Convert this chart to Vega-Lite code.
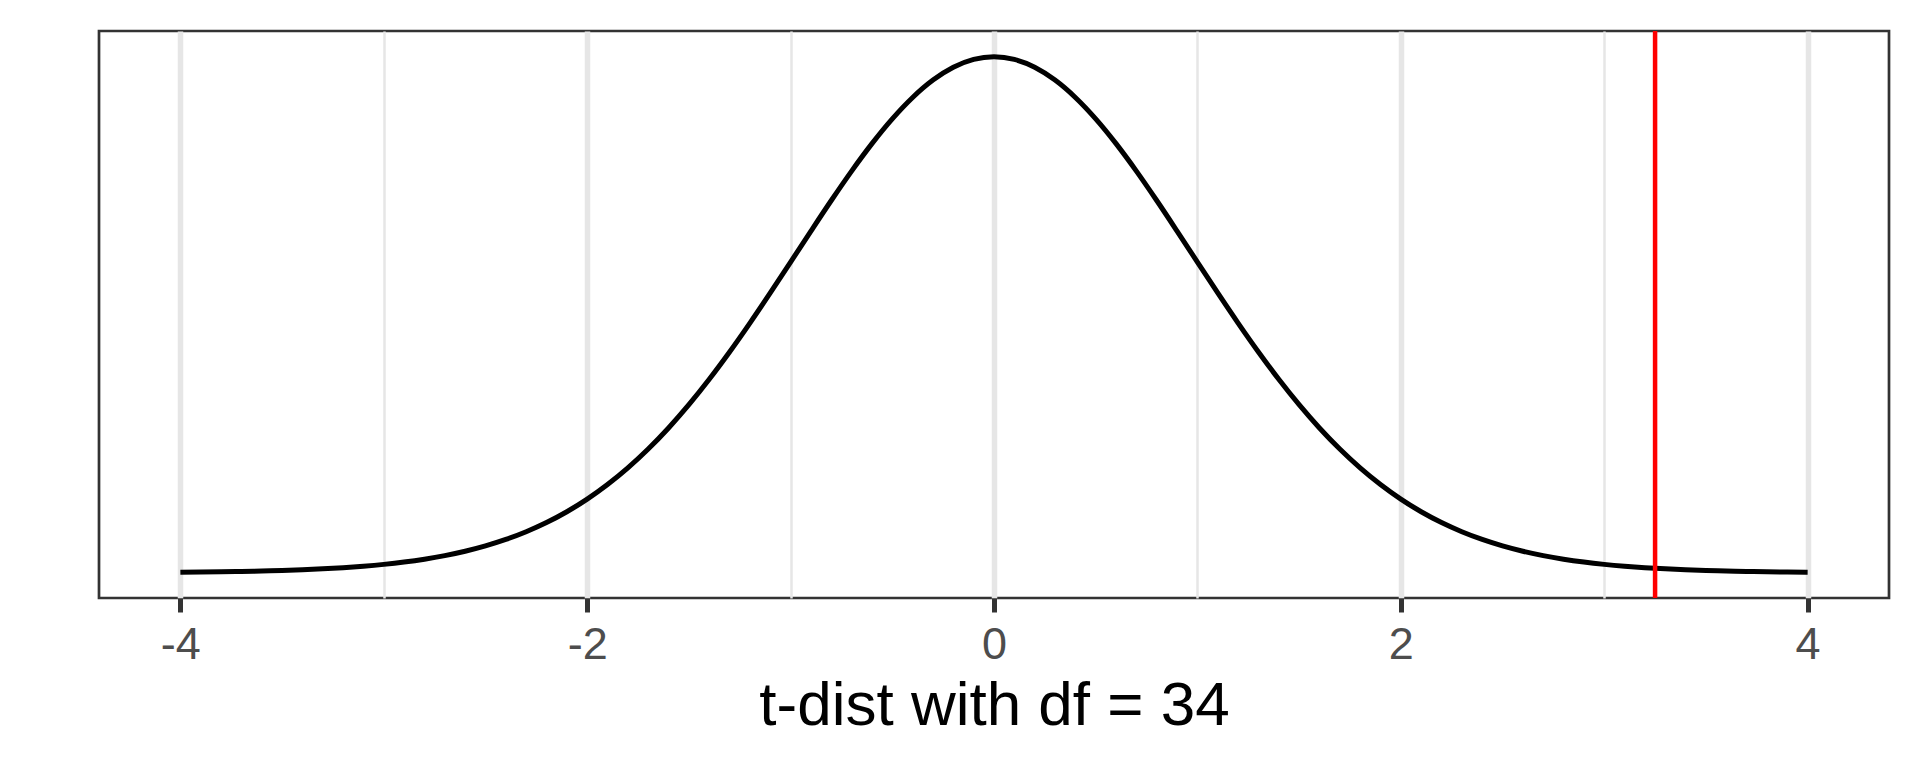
{
  "$schema": "https://vega.github.io/schema/vega-lite/v6.json",
  "autosize": "none",
  "padding": {"left": 99, "top": 31, "right": 31, "bottom": 170},
  "width": 1790,
  "height": 567,
  "background": "white",
  "config": {
    "view": {"stroke": "#333333", "strokeWidth": 2.7},
    "font": "Liberation Sans"
  },
  "datasets": {
    "density": [
      {"t": -4.0, "d": 0.000464}, {"t": -3.9, "d": 0.000613}, {"t": -3.8, "d": 0.000808}, {"t": -3.7, "d": 0.001062},
      {"t": -3.6, "d": 0.001391}, {"t": -3.5, "d": 0.001816}, {"t": -3.4, "d": 0.002363}, {"t": -3.3, "d": 0.003062},
      {"t": -3.2, "d": 0.003952}, {"t": -3.1, "d": 0.005079}, {"t": -3.0, "d": 0.006500}, {"t": -2.9, "d": 0.008277},
      {"t": -2.8, "d": 0.010489}, {"t": -2.7, "d": 0.013222}, {"t": -2.6, "d": 0.016577}, {"t": -2.5, "d": 0.020663},
      {"t": -2.4, "d": 0.025603}, {"t": -2.3, "d": 0.031526}, {"t": -2.2, "d": 0.038566}, {"t": -2.1, "d": 0.046862},
      {"t": -2.0, "d": 0.056547}, {"t": -1.9, "d": 0.067729}, {"t": -1.8, "d": 0.080520}, {"t": -1.7, "d": 0.094996},
      {"t": -1.6, "d": 0.111172}, {"t": -1.5, "d": 0.129034}, {"t": -1.4, "d": 0.148505}, {"t": -1.3, "d": 0.169446},
      {"t": -1.2, "d": 0.191630}, {"t": -1.1, "d": 0.214755}, {"t": -1.0, "d": 0.238455}, {"t": -0.9, "d": 0.262287},
      {"t": -0.8, "d": 0.285749}, {"t": -0.7, "d": 0.308295}, {"t": -0.6, "d": 0.329355}, {"t": -0.5, "d": 0.348369},
      {"t": -0.4, "d": 0.364784}, {"t": -0.3, "d": 0.378116}, {"t": -0.2, "d": 0.387955}, {"t": -0.1, "d": 0.393987},
      {"t": 0.0, "d": 0.396020},
      {"t": 0.1, "d": 0.393987}, {"t": 0.2, "d": 0.387955}, {"t": 0.3, "d": 0.378116}, {"t": 0.4, "d": 0.364784},
      {"t": 0.5, "d": 0.348369}, {"t": 0.6, "d": 0.329355}, {"t": 0.7, "d": 0.308295}, {"t": 0.8, "d": 0.285749},
      {"t": 0.9, "d": 0.262287}, {"t": 1.0, "d": 0.238455}, {"t": 1.1, "d": 0.214755}, {"t": 1.2, "d": 0.191630},
      {"t": 1.3, "d": 0.169446}, {"t": 1.4, "d": 0.148505}, {"t": 1.5, "d": 0.129034}, {"t": 1.6, "d": 0.111172},
      {"t": 1.7, "d": 0.094996}, {"t": 1.8, "d": 0.080520}, {"t": 1.9, "d": 0.067729}, {"t": 2.0, "d": 0.056547},
      {"t": 2.1, "d": 0.046862}, {"t": 2.2, "d": 0.038566}, {"t": 2.3, "d": 0.031526}, {"t": 2.4, "d": 0.025603},
      {"t": 2.5, "d": 0.020663}, {"t": 2.6, "d": 0.016577}, {"t": 2.7, "d": 0.013222}, {"t": 2.8, "d": 0.010489},
      {"t": 2.9, "d": 0.008277}, {"t": 3.0, "d": 0.006500}, {"t": 3.1, "d": 0.005079}, {"t": 3.2, "d": 0.003952},
      {"t": 3.3, "d": 0.003062}, {"t": 3.4, "d": 0.002363}, {"t": 3.5, "d": 0.001816}, {"t": 3.6, "d": 0.001391},
      {"t": 3.7, "d": 0.001062}, {"t": 3.8, "d": 0.000808}, {"t": 3.9, "d": 0.000613}, {"t": 4.0, "d": 0.000464}
    ],
    "observed": [{"t": 3.25}]
  },
  "resolve": {"axis": {"x": "independent"}},
  "layer": [
    {
      "data": {"name": "density"},
      "mark": {"type": "line", "color": "black", "strokeWidth": 5, "interpolate": "monotone", "clip": true},
      "encoding": {
        "x": {
          "field": "t", "type": "quantitative",
          "scale": {"domain": [-4.4, 4.4], "nice": false, "zero": false},
          "axis": {
            "values": [-4, -2, 0, 2, 4],
            "labelExpr": "'' + datum.value",
            "title": "t-dist with df = 34",
            "grid": true, "gridColor": "#E6E6E6", "gridWidth": 5.5,
            "domain": false,
            "ticks": true, "tickSize": 14, "tickWidth": 5, "tickColor": "#333333",
            "labelFontSize": 45, "labelColor": "#4D4D4D", "labelPadding": 10, "labelFont": "Liberation Sans",
            "labelFlush": false,
            "titleFontSize": 62, "titleColor": "black", "titleFont": "Liberation Sans", "titleFontWeight": "normal",
            "titleBaseline": "alphabetic", "titleY": 126
          }
        },
        "y": {
          "field": "d", "type": "quantitative",
          "scale": {"domain": [-0.01931, 0.4158], "nice": false, "zero": false},
          "axis": null
        }
      }
    },
    {
      "data": {"name": "observed"},
      "mark": {"type": "rule", "color": "#FF0000", "strokeWidth": 4.5},
      "encoding": {
        "x": {
          "field": "t", "type": "quantitative",
          "axis": {
            "values": [-3, -1, 1, 3],
            "title": null, "labels": false, "ticks": false, "domain": false,
            "grid": true, "gridColor": "#E6E6E6", "gridWidth": 2.5
          }
        }
      }
    }
  ]
}
